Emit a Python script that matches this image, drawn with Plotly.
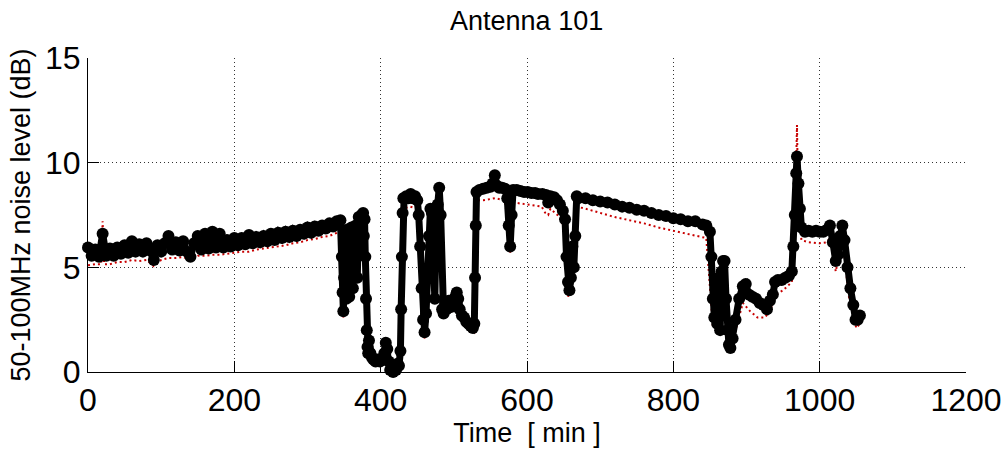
import plotly.graph_objects as go

# ---- black series (main noise level) ----
t1 = [0, 5, 10, 15, 20, 25, 30, 35, 40, 45,
      50, 55, 60, 65, 70, 75, 80, 85, 90, 95,
      100, 105, 110, 115, 120, 125, 130, 135, 140, 145,
      150, 155, 160, 165, 170, 175, 180, 185, 190, 195,
      200, 205, 210, 215, 220, 225, 230, 235, 240, 245,
      250, 255, 260, 265, 270, 275, 280, 285, 290, 295,
      300, 305, 310, 315, 320, 325, 330, 335, 340, 345]
v1 = [5.95, 5.55, 5.85, 5.5, 6.6, 5.55, 5.9, 5.55, 5.95, 5.65,
      6.05, 5.7, 6.25, 5.75, 6.1, 5.75, 6.15, 5.8, 5.35, 6.05,
      5.75, 6.15, 6.5, 5.85, 6.2, 5.8, 6.25, 5.75, 5.5, 6.15,
      6.5, 5.85, 6.6, 5.9, 6.7, 5.95, 6.6, 5.95, 6.3, 6.0,
      6.4, 6.05, 6.4, 6.1, 6.55, 6.15, 6.45, 6.2, 6.5, 6.25,
      6.6, 6.3, 6.65, 6.4, 6.7, 6.45, 6.75, 6.5, 6.8, 6.6,
      6.9, 6.65, 6.95, 6.75, 7.0, 6.85, 7.1, 6.95, 7.2, 7.25]

t2 = [347, 348, 349, 350, 351, 352, 353, 354, 355, 356,
      357, 358, 360, 362, 364, 366, 368, 370, 372, 374,
      376, 377, 378, 379, 380, 381, 382, 383, 384, 386,
      388, 390, 393, 396, 399, 402, 405, 407, 409, 411,
      413, 415, 417, 419, 421, 423, 425, 427, 428, 429,
      430, 431]
v2 = [5.5, 3.8, 2.9, 4.5, 6.5, 5.0, 3.5, 6.8, 4.2, 5.8,
      3.6, 5.2, 6.9, 4.0, 5.6, 7.0, 4.5, 7.4, 5.8, 7.5,
      7.6, 6.5, 7.3, 5.5, 3.5, 2.0, 1.2, 0.9, 1.5, 0.9,
      0.7, 0.6, 0.5, 0.6, 0.5, 0.6, 0.9, 1.4, 1.1, 0.5,
      0.1, 0.3, 0.0, 0.2, 0.1, 0.4, 0.3, 1.0, 3.0, 5.5,
      7.6, 8.3]

t3 = [432, 435, 438, 441, 444, 447, 450, 452, 454, 456,
      458, 460, 462, 464, 466, 468, 470, 472, 474, 476,
      478, 480, 482, 484, 486, 488, 490, 493, 496, 499,
      502, 504, 506, 508, 511, 514, 517, 520, 523, 526,
      528, 529, 530, 531]
v3 = [8.3, 8.4, 8.3, 8.5, 8.3, 8.4, 8.2, 7.5, 6.0, 4.0,
      2.5, 1.9, 2.8, 4.5, 6.5, 7.8, 7.6, 6.0, 3.5, 7.2,
      8.0, 8.8, 7.5, 3.0, 2.8, 3.3, 3.0, 3.4, 3.1, 3.3,
      3.6, 3.8, 3.5, 3.0, 2.7, 2.6, 2.4, 2.3, 2.2, 2.1,
      2.3, 4.5, 7.0, 8.6]

t4 = [535, 540, 545, 550, 553, 556, 559, 562, 566, 570,
      573, 575, 577, 579, 581, 586, 591, 596, 601, 606,
      611, 615, 621, 626, 629, 632, 637, 641, 645, 649,
      652, 654, 656, 658, 660, 662, 664, 666, 668, 670]
v4 = [8.7, 8.75, 8.8, 8.85, 9.0, 9.4, 8.9, 8.8, 8.8, 8.75,
      8.3, 7.0, 6.0, 7.5, 8.7, 8.7, 8.65, 8.6, 8.6, 8.55,
      8.55, 8.5, 8.5, 8.45, 8.1, 8.4, 8.35, 8.2, 8.0, 7.7,
      7.3, 5.5, 4.3, 3.9, 4.5, 6.0, 5.0, 6.5, 8.4, 8.3]

t5 = [680, 690, 700, 710, 720, 730, 740, 750, 760, 770,
      780, 790, 800, 810, 820, 830, 840, 845, 850]
v5 = [8.3, 8.2, 8.15, 8.1, 8.0, 7.9, 7.85, 7.75, 7.7, 7.6,
      7.5, 7.45, 7.35, 7.3, 7.2, 7.2, 7.05, 7.0, 6.7]

t6 = [852, 854, 856, 858, 860, 862, 864, 866, 868, 870,
      872, 874, 876, 878, 881, 885, 890, 895, 899, 903,
      908, 913, 918, 923, 928, 932, 936, 939, 943, 948,
      953, 958, 962, 964, 966, 968, 969, 971, 973, 975,
      980, 985, 990, 995, 1000, 1005, 1010, 1014, 1018, 1022,
      1025, 1028, 1031, 1034, 1038, 1042, 1046, 1049, 1052, 1055]
v6 = [5.5, 3.5, 2.6, 4.0, 2.3, 4.5, 2.0, 4.8, 5.3, 5.3,
      3.5, 2.0, 1.3, 1.15, 1.6, 2.5, 3.5, 4.1, 4.2, 3.7,
      3.6, 3.5, 3.3, 3.2, 3.0, 3.4, 3.7, 4.3, 4.4, 4.4,
      4.5, 4.6, 4.8, 6.0, 7.5, 9.5, 10.3, 9.0, 7.8, 6.9,
      6.7, 6.75, 6.7, 6.75, 6.7, 6.7, 6.8, 7.0, 6.2, 5.3,
      5.6, 6.5, 7.0, 6.3, 5.0, 4.0, 3.2, 2.5, 2.5, 2.7]

time_black = t1 + t2 + t3 + t4 + t5 + t6
level_black = v1 + v2 + v3 + v4 + v5 + v6

# ---- red dotted series (reference level) ----
time_red = [0, 10, 18, 20, 22, 30, 40, 50, 60, 70,
            80, 90, 100, 110, 120, 130, 140, 150, 160, 170,
            180, 190, 200, 210, 220, 230, 240, 250, 260, 270,
            280, 290, 300, 310, 320, 330, 340, 347,
            349, 352, 360, 365, 372, 376, 380, 383, 390, 400,
            407, 413, 420, 427, 431, 440, 450, 456, 460, 466,
            470, 474, 480, 484, 490, 500, 504, 510, 520, 528,
            531, 540, 556, 570, 575, 577, 581, 600, 620, 625,
            629, 632, 645, 652, 656, 660, 668, 680, 700, 720,
            740, 760, 780, 800, 820, 845, 854, 860, 866, 870,
            878, 885, 895, 905, 915, 925, 932, 940, 950, 962,
            966, 968, 969, 970, 975, 985, 1000, 1010, 1014, 1022,
            1031, 1040, 1050, 1055]
level_red = [5.1, 5.15, 5.15, 7.2, 5.15, 5.15, 5.25, 5.25, 5.35, 5.3,
             5.35, 5.05, 5.35, 5.45, 5.45, 5.5, 5.35, 5.55, 5.55, 5.6,
             5.6, 5.65, 5.7, 5.75, 5.75, 5.85, 5.9, 5.95, 6.0, 6.05,
             6.15, 6.2, 6.3, 6.35, 6.45, 6.5, 6.65, 6.8,
             2.6, 5.5, 4.0, 6.0, 6.9, 7.1, 3.0, 0.6, 0.4, 0.4,
             1.2, 0.0, 0.0, 0.8, 7.8, 7.9, 7.8, 3.5, 1.6, 6.0,
             7.2, 3.2, 8.3, 2.6, 2.7, 3.0, 3.4, 2.4, 2.0, 1.9,
             8.2, 8.2, 8.3, 8.2, 6.5, 5.7, 8.1, 8.0, 7.9, 7.6,
             7.5, 7.8, 7.4, 6.8, 3.6, 4.0, 7.9, 7.8, 7.6, 7.4,
             7.25, 7.1, 6.9, 6.75, 6.6, 6.4, 2.2, 3.8, 2.0, 4.9,
             0.9, 2.0, 3.3, 2.9, 2.6, 2.6, 2.9, 3.7, 3.9, 4.3,
             7.0, 11.0, 11.8, 9.5, 6.3, 6.2, 6.15, 6.2, 6.4, 4.8,
             6.4, 3.6, 2.1, 2.3]

x_ticks = [0, 200, 400, 600, 800, 1000, 1200]
y_ticks = [0, 5, 10, 15]

FONT = "Liberation Sans, Arial, Helvetica, sans-serif"

fig = go.Figure()
fig.add_trace(go.Scatter(
    x=time_red, y=level_red, mode="lines",
    line=dict(color="#c80000", width=2, dash="2px,3px"),
    showlegend=False, cliponaxis=False))
fig.add_trace(go.Scatter(
    x=time_black, y=level_black, mode="lines+markers",
    line=dict(color="black", width=7),
    marker=dict(color="black", size=12, symbol="circle"),
    showlegend=False, cliponaxis=False))

fig.update_layout(
    width=1005, height=453,
    margin=dict(l=88, r=39, t=58, b=81, autoexpand=False),
    paper_bgcolor="white", plot_bgcolor="white",
    font=dict(family=FONT, color="black"),
    title=dict(text="Antenna 101", x=0.524, xanchor="center",
               y=0.955, yanchor="middle",
               font=dict(size=27, family=FONT, color="black")),
)
fig.update_xaxes(
    range=[0, 1200], tickvals=x_ticks, ticktext=[str(v) for v in x_ticks],
    ticks="inside", ticklen=11, tickwidth=1, tickcolor="black",
    showline=True, linecolor="black", linewidth=1, mirror=False,
    showgrid=True, gridcolor="#333333", griddash="1px,3px", gridwidth=1,
    zeroline=False, tickfont=dict(size=32, family=FONT), automargin=False,
    title=dict(text="Time\u00a0 [ min ]", font=dict(size=27, family=FONT), standoff=4),
)
fig.update_yaxes(
    range=[0, 15], tickvals=y_ticks, ticktext=[str(v) for v in y_ticks],
    ticks="inside", ticklen=11, tickwidth=1, tickcolor="black",
    showline=True, linecolor="black", linewidth=1, mirror=False,
    showgrid=True, gridcolor="#333333", griddash="1px,3px", gridwidth=1,
    zeroline=False, tickfont=dict(size=32, family=FONT), automargin=False,
    title=dict(text="50-100MHz noise level (dB)", font=dict(size=27, family=FONT), standoff=6),
)

fig.write_html("out.html")
